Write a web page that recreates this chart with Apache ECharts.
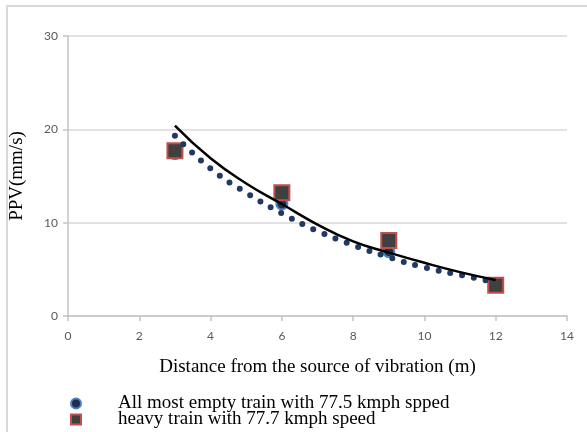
<!DOCTYPE html>
<html>
<head>
<meta charset="utf-8">
<script src="https://cdn.jsdelivr.net/npm/echarts@6/dist/echarts.min.js"></script>
<style>
    html, body { margin: 0; padding: 0; background: #fff; }
    #chart { width: 587px; height: 432px; }
</style>
</head>
<body>
<div id="chart"></div>
<script>
// measured distances (m)
const distances = [3, 6, 9, 12];
const emptyTrain = [17.4, 12.0, 6.9, 3.4];
const heavyTrain = [17.7, 13.2, 8.1, 3.3];

// trendlines
const trendX = [3, 4, 5, 6, 7, 8, 9, 10, 11, 12];
const emptyTrend = [19.3, 15.8, 13.2, 11.0, 9.1, 7.6, 6.3, 5.2, 4.4, 3.6];
const heavyTrend = [20.4, 16.9, 14.2, 12.0, 9.8, 8.0, 6.8, 5.7, 4.7, 3.85];

const emptyName = 'All most empty train with 77.5 kmph spped';
const heavyName = 'heavy train with 77.7 kmph speed';

const pairs = (xs, ys) => xs.map((x, i) => [x, ys[i]]);

const serif = 'Liberation Serif, Times New Roman, serif';
const tickFont = { fontFamily: 'Lato, Open Sans, sans-serif', fontSize: 12, color: '#595959' };

let chart = echarts.init(document.getElementById('chart'));
chart.setOption({
    animation: false,
    graphic: [{
        type: 'rect',
        shape: { x: 7, y: 6, width: 640, height: 500 },
        style: { fill: 'none', stroke: '#d9d9d9', lineWidth: 2 },
        silent: true
    }],
    grid: { left: 67, right: 20, top: 36, bottom: 116 },
    legend: {
        data: [emptyName, heavyName],
        orient: 'vertical',
        left: 70,
        top: 394,
        height: 120,
        padding: 0,
        itemWidth: 10,
        itemHeight: 10,
        itemGap: -3,
        textStyle: {
            fontFamily: serif,
            fontSize: 19,
            lineHeight: 16,
            color: '#000',
            padding: [0, 0, 0, 32]
        }
    },
    xAxis: {
        type: 'value',
        min: 0,
        max: 14,
        interval: 2,
        name: 'Distance from the source of vibration (m)',
        nameLocation: 'middle',
        nameGap: 42,
        nameTextStyle: { fontFamily: serif, fontSize: 19, color: '#000' },
        axisLine: { show: true, lineStyle: { color: '#c4c4c4', width: 1.5 } },
        axisTick: { show: true, length: 5, lineStyle: { color: '#c4c4c4', width: 1.5 } },
        axisLabel: Object.assign({ margin: 14 }, tickFont),
        splitLine: { show: false }
    },
    yAxis: {
        type: 'value',
        min: 0,
        max: 30,
        interval: 10,
        name: 'PPV(mm/s)',
        nameLocation: 'middle',
        nameGap: 41,
        nameTextStyle: { fontFamily: serif, fontSize: 19, color: '#000' },
        axisLine: { show: true, lineStyle: { color: '#c4c4c4', width: 1.5 } },
        axisTick: { show: true, length: 5, lineStyle: { color: '#c4c4c4', width: 1.5 } },
        axisLabel: Object.assign({ margin: 10 }, tickFont),
        splitLine: { lineStyle: { color: '#d9d9d9', width: 1.5 } }
    },
    series: [
        {
            name: emptyName,
            type: 'scatter',
            symbol: 'circle',
            symbolSize: 11,
            data: pairs(distances, emptyTrain),
            itemStyle: { color: '#1f2f4d', borderColor: '#4f81c7', borderWidth: 2, opacity: 1 },
            z: 2
        },
        {
            name: heavyName,
            type: 'scatter',
            symbol: 'rect',
            symbolSize: 15,
            data: pairs(distances, heavyTrain),
            itemStyle: { color: '#404040', borderColor: '#c0504d', borderWidth: 2, opacity: 1 },
            z: 3
        },
        {
            name: 'empty trend',
            type: 'line',
            smooth: true,
            showSymbol: false,
            data: pairs(trendX, emptyTrend),
            lineStyle: { color: '#203864', width: 6, type: [0, 12], cap: 'round' },
            z: 4
        },
        {
            name: 'heavy trend',
            type: 'line',
            smooth: true,
            showSymbol: false,
            data: pairs(trendX, heavyTrend),
            lineStyle: { color: '#000', width: 2.5 },
            z: 5
        }
    ]
});
</script>
</body>
</html>
